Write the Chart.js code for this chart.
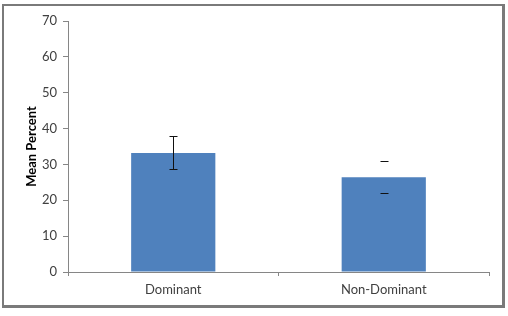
<!DOCTYPE html>
<html>
<head>
<meta charset="utf-8">
<script src="https://cdn.jsdelivr.net/npm/chart.js@4/dist/chart.umd.min.js"></script>
<style>
html,body{margin:0;padding:0;background:#fff;}
#wrap{position:relative;width:508px;height:316px;}
#frame{position:absolute;left:2px;top:4px;width:498px;height:299px;border:2px solid #7a7a7a;border-right-width:3px;border-bottom-width:3px;box-sizing:content-box;pointer-events:none;}
canvas{position:absolute;left:0;top:0;}
</style>
</head>
<body>
<div id="wrap">
<canvas id="c" width="508" height="316"></canvas>
<div id="frame"></div>
</div>
<script>
const categories = ["Dominant", "Non-Dominant"];
const meanValues = [33.2, 26.4];
const errorLow = [28.7, 21.9];
const errorHigh = [37.9, 30.9];
const showStem = [true, false];
const yTicks = [0, 10, 20, 30, 40, 50, 60, 70];
const yTitle = "Mean Percent";

const errorBarPlugin = {
  id: 'errorBars',
  afterDatasetsDraw(chart) {
    const ctx = chart.ctx;
    const meta = chart.getDatasetMeta(0);
    const y = chart.scales.y;
    ctx.save();
    ctx.strokeStyle = '#111';
    ctx.lineWidth = 1;
    meta.data.forEach((bar, i) => {
      const x = Math.round(bar.x) + 0.5;
      const yl = Math.round(y.getPixelForValue(errorLow[i])) + 0.5;
      const yh = Math.round(y.getPixelForValue(errorHigh[i])) + 0.5;
      ctx.beginPath();
      if (showStem[i]) { ctx.moveTo(x, yl); ctx.lineTo(x, yh); }
      ctx.moveTo(x - 4, yl); ctx.lineTo(x + 4, yl);
      ctx.moveTo(x - 4, yh); ctx.lineTo(x + 4, yh);
      ctx.stroke();
    });
    ctx.restore();
  }
};

new Chart(document.getElementById('c'), {
  type: 'bar',
  data: {
    labels: categories,
    datasets: [{
      data: meanValues,
      backgroundColor: '#4F81BD',
      borderWidth: 0,
      barPercentage: 0.4,
      categoryPercentage: 1.0
    }]
  },
  options: {
    responsive: false,
    animation: false,
    devicePixelRatio: 1,
    layout: { padding: { left: 0, right: 19, top: 21, bottom: 0 } },
    plugins: { legend: { display: false }, tooltip: { enabled: false } },
    scales: {
      x: {
        grid: { display: true, drawOnChartArea: false, drawTicks: true, tickLength: 4, offset: true, color: '#868686' },
        border: { display: true, color: '#868686', width: 1 },
        ticks: { color: '#404040', font: { family: 'Lato', size: 13 }, padding: 6 },
        afterFit(s) { s.height = 44; }
      },
      y: {
        min: 0, max: 70,
        afterBuildTicks(s) { s.ticks = yTicks.map(v => ({ value: v })); },
        grid: { display: true, drawOnChartArea: false, drawTicks: true, tickLength: 5, color: '#868686' },
        border: { display: true, color: '#868686', width: 1 },
        ticks: { color: '#404040', font: { family: 'Lato', size: 13 }, padding: 6 },
        title: { display: true, text: yTitle, color: '#000', font: { family: 'Lato', size: 13, weight: 'bold' }, padding: { top: 24, bottom: 0 } },
        afterFit(s) { s.width = 68; }
      }
    }
  },
  plugins: [errorBarPlugin]
});
</script>
</body>
</html>
